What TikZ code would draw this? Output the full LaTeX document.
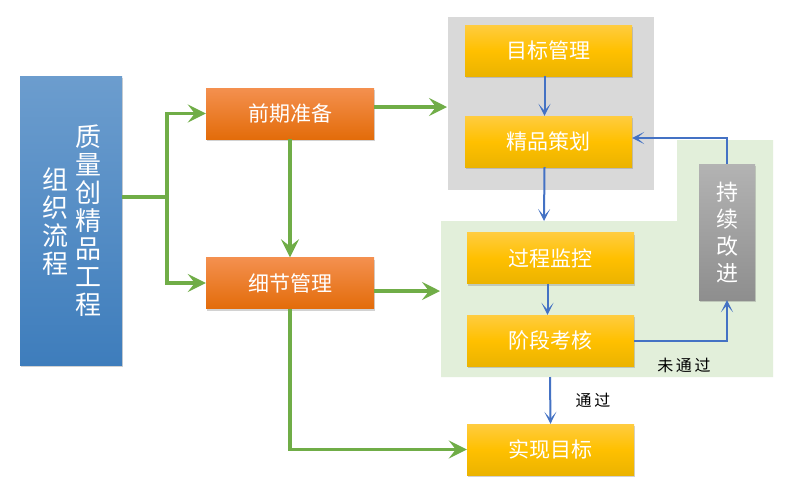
\documentclass[tikz,border=0pt]{standalone}
\usepackage{fontspec}
\newfontfamily\cjk{Noto Sans CJK SC}
\usetikzlibrary{arrows.meta,shadows,calc}
\definecolor{orTop}{HTML}{F4904F}
\definecolor{orBot}{HTML}{E36C0A}
\definecolor{yeTop}{HTML}{FFCC40}
\definecolor{yeMid}{HTML}{FFC000}
\definecolor{yeBot}{HTML}{EBB300}
\definecolor{blTop}{HTML}{6C9DCE}
\definecolor{blBot}{HTML}{3E7DBC}
\definecolor{gyTop}{HTML}{B3B3B3}
\definecolor{gyBot}{HTML}{8E8E8E}
\definecolor{grayBg}{HTML}{D9D9D9}
\definecolor{grnBg}{HTML}{E2EFDA}
\definecolor{grn}{HTML}{70AD47}
\definecolor{blu}{HTML}{4472C4}
\begin{document}
\begin{tikzpicture}[x=1pt,y=-1pt,
  box/.style={draw=none, inner sep=0pt, text=white,
    font=\cjk\fontsize{21}{24}\selectfont,
    drop shadow={shadow xshift=0.5pt,shadow yshift=-2pt,opacity=0.35}},
  obox/.style={box, minimum width=168pt, minimum height=51pt,
    top color=orTop, bottom color=orBot},
  ybox/.style={box, minimum width=167pt, minimum height=51pt,
    top color=yeTop, bottom color=yeBot, middle color=yeMid},
  vtext/.style={inner sep=0pt, text=white, align=center},
  garrow/.style={draw=grn, line width=3.6pt,
    -{Stealth[length=18pt,width=18pt,inset=7pt]}},
  gline/.style={draw=grn, line width=3.6pt},
  barrow/.style={draw=blu, line width=2pt,
    -{Stealth[length=12pt,width=12pt,inset=7pt]}},
  lbl/.style={inner sep=0pt, font=\cjk\fontsize{16}{18}\selectfont, text=black}
]
\useasboundingbox (0,0) rectangle (809,483);
\fill[white] (0,0) rectangle (809,483);

% background areas
\fill[grayBg] (448,17) rectangle (654,190);
\fill[grnBg] (441,221) -- (677,221) -- (677,140) -- (773,140) -- (773,377) -- (441,377) -- cycle;

% left blue block
\node[box, minimum width=102pt, minimum height=289pt,
  top color=blTop, bottom color=blBot] (org) at (71,220.5) {};
\node[vtext, font=\cjk\fontsize{26}{28}\selectfont] (t1) at (88,221)
  {质\\量\\创\\精\\品\\工\\程};
\node[vtext, font=\cjk\fontsize{26}{28}\selectfont] (t2) at (55,222)
  {组\\织\\流\\程};

% orange boxes
\node[obox] (prep) at (290,113.5) {前期准备};
\node[obox] (detail) at (290,283) {细节管理};

% yellow boxes
\node[ybox] (goal) at (548.5,50.5) {目标管理};
\node[ybox] (plan) at (548.5,141.5) {精品策划};
\node[ybox] (mon) at (550.5,258) {过程监控};
\node[ybox] (assess) at (550.5,340.5) {阶段考核};
\node[ybox] (achieve) at (550.5,449.5) {实现目标};

% continuous improvement
\node[box, minimum width=56pt, minimum height=136pt,
  top color=gyTop, bottom color=gyBot] (improve) at (727,232) {};
\node[vtext, font=\cjk\fontsize{22}{27}\selectfont] (t3) at (727,232)
  {持\\续\\改\\进};

% green connectors
\coordinate (split) at (167,197);
\draw[gline] (org.east |- split) -- (split);
\draw[garrow] (split) |- (prep.west);
\draw[garrow] (split) |- (detail.west);
\draw[garrow] (prep.south) -- (detail.north);
\coordinate (gin) at (447,107);
\draw[garrow] (prep.east |- gin) -- (gin);
\coordinate (gin2) at (440,291);
\draw[garrow] (detail.east |- gin2) -- (gin2);
\draw[garrow] (detail.south) |- (achieve.west);

% blue connectors
\draw[barrow] ([xshift=-4pt]goal.south) -- ([xshift=-4pt]plan.north);
\coordinate (gtop) at (544,221);
\draw[barrow] ([xshift=-4pt]plan.south) -- (gtop);
\draw[barrow] ([xshift=-3pt]mon.south) -- ([xshift=-3pt]assess.north);
\draw[barrow] (assess.east) -| (improve.south);
\draw[barrow] (improve.north) |- ([yshift=3.5pt]plan.east);
\coordinate (gbot) at (550,377);
\draw[barrow] (gbot) -- (achieve.north);

% labels
\node[lbl] (pass) at (593,400) {通\,过};
\node[lbl] (fail) at (684,365) {未\,通\,过};
\end{tikzpicture}
\end{document}
